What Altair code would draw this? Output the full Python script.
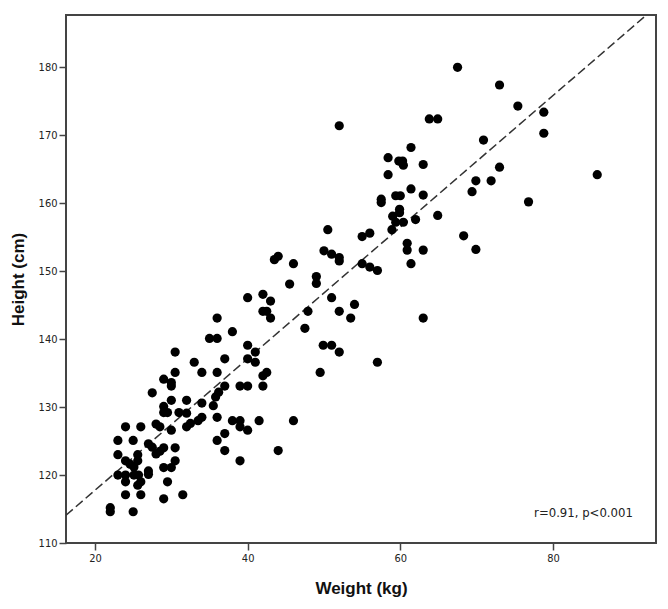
import altair as alt
import pandas as pd

# Weight (kg) and Height (cm)
weight = [
    67.5, 73, 75.4, 78.8, 78.8, 70.9, 52, 63.8, 64.9, 85.8, 73, 69.9, 71.9, 69.4, 76.8, 68.3, 69.9,
    61.4, 58.4, 59.8, 60.3, 60.4, 63, 58.4, 61.4, 63, 59.4, 60, 57.5, 57.5, 59.9, 59.9, 59, 64.9, 62,
    59.4, 60.4, 58.9, 56, 55, 60.9, 60.9, 63, 61.4, 55, 56, 57,
    50.5, 50, 51, 52, 52, 49, 49, 44, 43.5, 46, 45.5, 51, 54, 52, 53.5, 47.9, 47.5, 49.9, 51, 52, 49.5, 57, 63,
    42, 40, 43, 42, 42.5, 43, 36, 38, 35, 36, 40, 41, 40, 37, 41, 42.5, 42, 42, 39, 40, 37, 36, 34, 33,
    30.5, 30.5, 30, 30, 29,
    36.2, 35.8, 35.5, 34, 32, 30, 27.5, 29, 29, 29.5, 31, 32, 36, 34, 33.5, 38, 39, 41.5, 46, 32, 32.5,
    39, 40, 37, 36, 37, 44, 39,
    28, 28.5, 30, 26, 24, 27, 27.5, 29, 30.5, 28.5, 28, 23, 25, 23, 25.6, 24, 24.6, 25.6, 25.1, 30.5,
    29, 30, 23, 24, 25.1, 25.7, 27, 27, 24, 26, 25.6, 29.5, 24, 26, 31.5, 29, 22, 22, 25,
]
height = [
    180, 177.4, 174.3, 173.4, 170.3, 169.3, 171.4, 172.4, 172.4, 164.2, 165.3, 163.3, 163.3, 161.7, 160.2, 155.2, 153.2,
    168.2, 166.7, 166.2, 166.2, 165.6, 165.7, 164.2, 162.1, 161.2, 161.1, 161.1, 160.6, 160.1, 159.1, 158.6, 158.1, 158.2, 157.6,
    157.2, 157.2, 156.1, 155.6, 155.1, 154.1, 153.1, 153.1, 151.1, 151.1, 150.6, 150.1,
    156.1, 153, 152.5, 152, 151.5, 149.2, 148.2, 152.2, 151.7, 151.1, 148.1, 146.1, 145.1, 144.1, 143.1, 144.1, 141.6, 139.1, 139.1, 138.1, 135.1, 136.6, 143.1,
    146.6, 146.1, 145.6, 144.1, 144.1, 143.1, 143.1, 141.1, 140.1, 140.1, 139.1, 138.1, 137.1, 137.1, 136.6, 135.1, 134.6, 133.1, 133.1, 133.1, 133.1, 135.1, 135.1, 136.6,
    138.1, 135.1, 133.6, 133.1, 134.1,
    132.2, 131.5, 130.2, 130.6, 131, 131, 132.1, 130.1, 129.2, 129.2, 129.2, 129.1, 128.5, 128.5, 128, 128, 128, 128, 128, 127.1, 127.6,
    127.1, 126.6, 126.1, 125.1, 123.6, 123.6, 122.1,
    127.5, 127.1, 126.6, 127.1, 127.1, 124.6, 124.1, 124, 124, 123.5, 123.1, 125.1, 125.1, 123, 123, 122.1, 121.6, 122.1, 121.2, 122.1,
    121.1, 121.1, 120, 120, 120, 120, 120.6, 120.1, 119, 119, 118.5, 119, 117.1, 117.1, 117.1, 116.5, 115.2, 114.6, 114.6,
]

# fitted line (intercept, slope) and axis ranges
fit_intercept = 98.4
fit_slope = 0.968
x_domain = [16.2, 93.5]
y_domain = [110, 187.7]
x_ticks = [20, 40, 60, 80]
y_ticks = [110, 120, 130, 140, 150, 160, 170, 180]
annotation = ["r=0.91, p<0.001"]
ann_x = [84]
ann_y = [114.4]

points = pd.DataFrame({"Weight": weight, "Height": height})
fit = pd.DataFrame({"Weight": x_domain,
                    "Height": [fit_intercept + fit_slope * v for v in x_domain]})
ann = pd.DataFrame({"Weight": ann_x, "Height": ann_y, "label": annotation})

label_font = "Liberation Sans Narrow, Arial Narrow, DejaVu Sans Condensed, sans-serif"

xs = alt.Scale(domain=x_domain, nice=False, zero=False)
ys = alt.Scale(domain=y_domain, nice=False, zero=False)

x_axis = alt.Axis(values=x_ticks, title="Weight (kg)", titleY=45, titleBaseline="middle")
y_axis = alt.Axis(values=y_ticks, title="Height (cm)", titleX=-48, titleBaseline="middle")

pts = alt.Chart(points).mark_circle(size=85, color="black", opacity=1).encode(
    x=alt.X("Weight:Q", scale=xs, axis=x_axis),
    y=alt.Y("Height:Q", scale=ys, axis=y_axis),
)

line = alt.Chart(fit).mark_line(color="#333333", strokeWidth=1.5, strokeDash=[9, 4], clip=True).encode(
    x=alt.X("Weight:Q", scale=xs),
    y=alt.Y("Height:Q", scale=ys),
)

txt = alt.Chart(ann).mark_text(font=label_font, fontSize=13, color="#222222", align="center",
                               baseline="middle").encode(
    x=alt.X("Weight:Q", scale=xs),
    y=alt.Y("Height:Q", scale=ys),
    text="label:N",
)

chart = alt.layer(line, pts, txt).properties(
    width=590, height=528,
    autosize=alt.AutoSizeParams(type="none"),
    padding={"left": 58, "top": 7, "right": 2, "bottom": 60},
).configure_view(
    stroke="#444444", strokeWidth=2
).configure_axis(
    grid=False, domain=False, tickColor="#444444", tickWidth=1.5, tickSize=7,
    labelFont=label_font, labelFontSize=11, labelColor="#222222", labelPadding=2,
    titleFont="Liberation Sans, Arial, sans-serif", titleFontSize=17, titleFontWeight="bold",
    titleColor="#111111",
)

chart.save("out.html", embed_options={"renderer": "svg", "actions": False})
